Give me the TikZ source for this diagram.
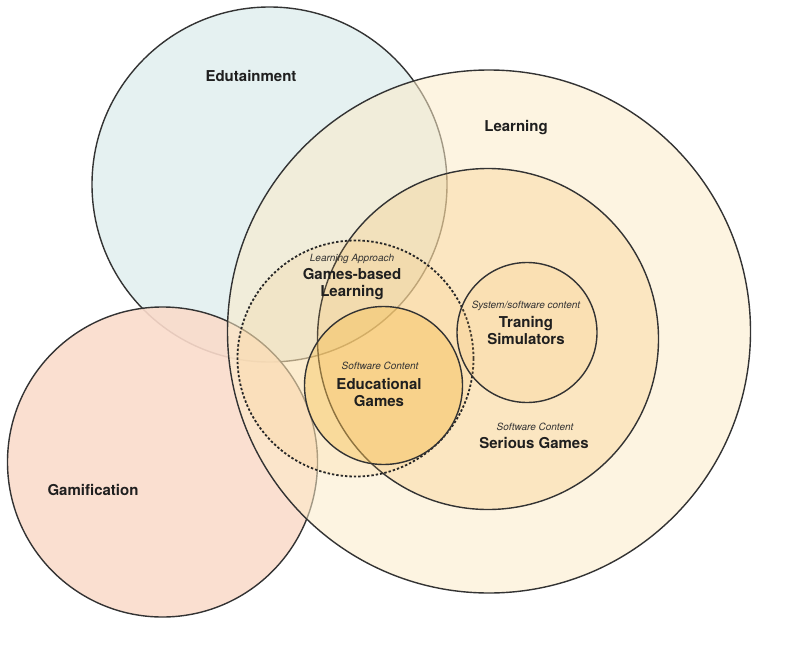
\documentclass[tikz,border=0pt]{standalone}
\usepackage{fontspec}
\setmainfont{TeX Gyre Heros}
\usetikzlibrary{positioning}
\definecolor{eduteal}{HTML}{E5F1F1}
\definecolor{gampink}{HTML}{FADBCB}
\definecolor{lrncream}{HTML}{FCEBC8}
\definecolor{gameorange}{HTML}{F5BE64}
\definecolor{edgorange}{HTML}{F5BC4A}
\definecolor{ringline}{HTML}{333333}

\begin{document}
\begin{tikzpicture}[
  x=1pt, y=-1pt,
  ring/.style={circle, draw=ringline, line width=1.4pt, inner sep=0pt},
  dotring/.style={circle, draw=black!85, line width=1.8pt, dash pattern=on 2.4pt off 2pt, inner sep=0pt},
  title/.style={font=\fontsize{15}{17}\selectfont\bfseries, text=black!88, align=center, inner sep=0pt},
  sub/.style={font=\fontsize{10}{12}\selectfont\itshape, text=black!80, inner sep=0pt}
]
  \useasboundingbox (0,0) rectangle (791,647);

  % outer circles
  \node[ring, fill=eduteal, minimum size=355pt] (edu) at (269.5,184.5) {};
  \node[ring, fill=gampink, fill opacity=0.9, minimum size=310pt] (gam) at (162.5,462) {};
  \node[ring, fill=lrncream, fill opacity=0.55, minimum size=523pt] (lrn) at (489,331.5) {};

  % inner circles
  \node[ring, fill=gameorange, fill opacity=0.25, minimum size=341pt] (ser) at (488,339) {};
  \node[dotring, fill=gameorange, fill opacity=0.15, minimum size=236pt] (gbl) at (355.5,358.5) {};
  \node[ring, fill=gameorange, fill opacity=0.15, minimum size=140pt] (trn) at (527,332.5) {};
  \node[ring, fill=edgorange, fill opacity=0.38, minimum size=158pt] (edg) at (383.5,385.5) {};

  % labels
  \node[title] (edulbl) at (251,76) {Edutainment};
  \node[title] (gamlbl) at (93,490) {Gamification};
  \node[title] (lrnlbl) at (516,128) {Learning};

  \node[sub] (gblsub) at (352,259) {Learning Approach};
  \node[title] (gbllbl) at (352,284.5) {Games-based\\Learning};

  \node[sub] (edgsub) at (380,366) {Software Content};
  \node[title] (edglbl) at (379,392) {Educational\\Games};

  \node[sub] (trnsub) at (526,306) {System/software content};
  \node[title] (trnlbl) at (526,330.5) {Traning\\Simulators};

  \node[sub] (sersub) at (535,427) {Software Content};
  \node[title] (serlbl) at (534,443) {Serious Games};
\end{tikzpicture}
\end{document}
